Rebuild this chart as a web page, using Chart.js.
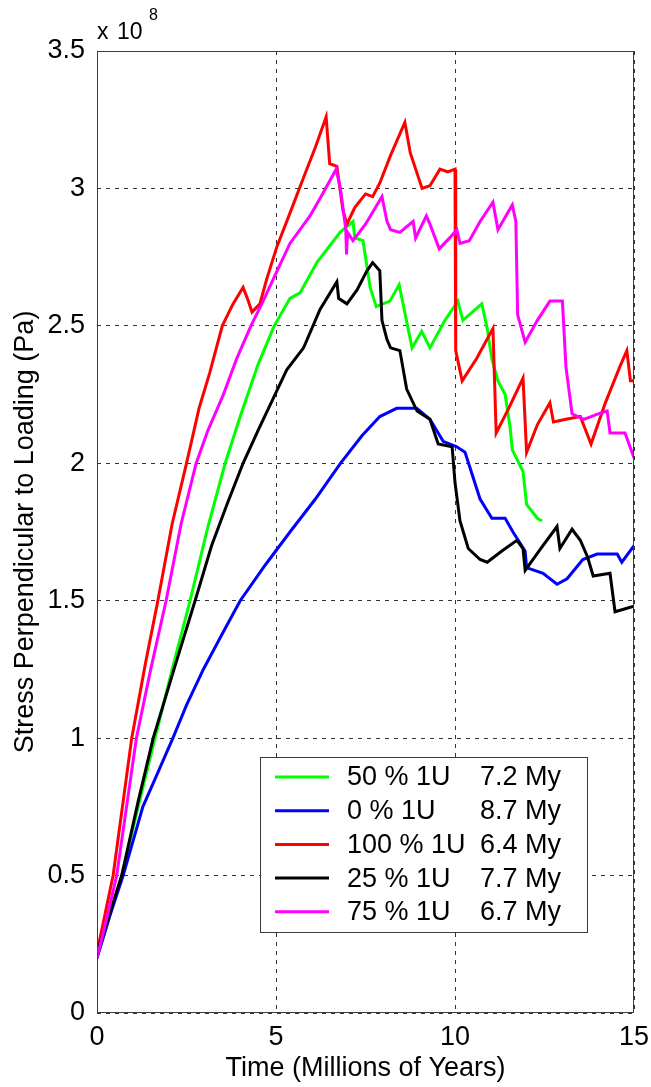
<!DOCTYPE html>
<html>
<head>
<meta charset="utf-8">
<title>Stress Perpendicular to Loading</title>
<script src="https://cdn.jsdelivr.net/npm/chart.js@4.4.1/dist/chart.umd.min.js"></script>
<style>
  html, body { margin: 0; padding: 0; background: #fff; }
  canvas { display: block; }
</style>
</head>
<body>
<canvas id="stressChart" width="651" height="1087"></canvas>
<script>
/* Stress perpendicular to loading vs time (values in units of 1e8 Pa) */

const xTickLabels = ['0', '5', '10', '15'];
const yTickLabels = ['0', '0.5', '1', '1.5', '2', '2.5', '3', '3.5'];

const seriesNames = ['50 % 1U', '0 % 1U', '100 % 1U', '25 % 1U', '75 % 1U'];
const seriesTimes = ['7.2 My', '8.7 My', '6.4 My', '7.7 My', '6.7 My'];
const seriesColors = ['#00ff00', '#0000ff', '#ff0000', '#000000', '#ff00ff'];

// 50 % 1U
const greenT = [0, 0.35, 0.69, 1.15, 1.62, 2.1, 2.6, 3.1, 3.58, 4.0, 4.5, 4.95, 5.39, 5.67, 6.14, 6.79, 7.15, 7.2, 7.43, 7.63, 7.8, 8.18, 8.44, 8.8, 9.07, 9.3, 9.72, 10.08, 10.22, 10.75, 10.9, 11.03, 11.2, 11.4, 11.54, 11.6, 11.9, 12.0, 12.3, 12.43];
const greenV = [0.2, 0.35, 0.5, 0.75, 1.0, 1.25, 1.5, 1.77, 2.0, 2.17, 2.36, 2.5, 2.6, 2.62, 2.73, 2.84, 2.88, 2.82, 2.81, 2.64, 2.57, 2.59, 2.65, 2.42, 2.48, 2.42, 2.52, 2.59, 2.52, 2.58, 2.49, 2.38, 2.3, 2.25, 2.13, 2.05, 1.97, 1.85, 1.8, 1.79];

// 0 % 1U
const blueT = [0, 0.35, 0.73, 1.28, 1.65, 2.12, 2.5, 2.97, 3.5, 4.0, 4.7, 5.39, 6.1, 6.8, 7.4, 7.9, 8.37, 8.93, 9.3, 9.67, 10.05, 10.28, 10.7, 11.03, 11.4, 11.62, 11.96, 12.0, 12.46, 12.85, 13.13, 13.57, 13.97, 14.53, 14.66, 15];
const blueV = [0.2, 0.35, 0.5, 0.75, 0.86, 1.0, 1.12, 1.25, 1.38, 1.5, 1.63, 1.75, 1.87, 2.0, 2.1, 2.17, 2.2, 2.2, 2.16, 2.08, 2.06, 2.04, 1.87, 1.8, 1.8, 1.75, 1.68, 1.62, 1.6, 1.56, 1.58, 1.65, 1.67, 1.67, 1.64, 1.7];

// 100 % 1U
const redT = [0, 0.45, 0.97, 1.35, 1.7, 2.1, 2.5, 2.85, 3.15, 3.5, 3.8, 4.08, 4.2, 4.33, 4.55, 4.74, 5.03, 5.39, 5.8, 6.1, 6.4, 6.5, 6.7, 6.87, 6.98, 7.2, 7.5, 7.7, 7.9, 8.2, 8.6, 8.75, 9.08, 9.3, 9.58, 9.8, 10.0, 10.02, 10.2, 10.6, 11.06, 11.15, 11.5, 11.9, 12.0, 12.3, 12.65, 12.75, 13.1, 13.5, 13.65, 13.8, 14.2, 14.6, 14.8, 14.9, 15];
const redV = [0.22, 0.5, 1.0, 1.27, 1.5, 1.78, 2.0, 2.2, 2.33, 2.5, 2.58, 2.64, 2.6, 2.55, 2.58, 2.67, 2.79, 2.91, 3.05, 3.15, 3.26, 3.09, 3.08, 2.92, 2.87, 2.93, 2.98, 2.97, 3.02, 3.12, 3.24, 3.13, 3.0, 3.01, 3.07, 3.06, 3.07, 2.41, 2.3, 2.38, 2.49, 2.11, 2.2, 2.31, 2.04, 2.14, 2.22, 2.15, 2.16, 2.17, 2.12, 2.07, 2.22, 2.35, 2.41, 2.3, 2.3];

// 25 % 1U
const blackT = [0, 0.35, 0.69, 1.15, 1.57, 2.15, 2.74, 3.2, 3.63, 4.08, 4.5, 4.9, 5.3, 5.77, 6.23, 6.7, 6.75, 6.98, 7.26, 7.54, 7.7, 7.9, 7.96, 8.1, 8.2, 8.46, 8.65, 8.94, 9.3, 9.53, 9.92, 10.0, 10.14, 10.37, 10.7, 10.9, 11.3, 11.73, 11.9, 11.96, 12.4, 12.85, 12.93, 13.27, 13.5, 13.7, 13.86, 14.33, 14.47, 15];
const blackV = [0.22, 0.36, 0.5, 0.77, 1.0, 1.25, 1.5, 1.7, 1.85, 2.0, 2.12, 2.23, 2.34, 2.42, 2.56, 2.66, 2.6, 2.58, 2.63, 2.7, 2.73, 2.7, 2.52, 2.45, 2.42, 2.41, 2.27, 2.19, 2.16, 2.07, 2.06, 1.93, 1.79, 1.69, 1.65, 1.64, 1.68, 1.72, 1.69, 1.61, 1.69, 1.77, 1.69, 1.76, 1.72, 1.66, 1.59, 1.6, 1.46, 1.48];

// 75 % 1U
const magentaT = [0, 0.3, 0.55, 1.1, 1.5, 1.93, 2.35, 2.77, 3.1, 3.53, 3.9, 4.3, 4.64, 5.03, 5.39, 5.95, 6.3, 6.68, 6.8, 6.95, 6.97, 7.0, 7.15, 7.5, 7.96, 8.1, 8.2, 8.46, 8.83, 8.9, 9.2, 9.3, 9.56, 9.85, 10.05, 10.14, 10.4, 10.7, 11.06, 11.2, 11.6, 11.7, 11.75, 11.96, 12.3, 12.65, 13.0, 13.1, 13.27, 13.6, 14.0, 14.25, 14.33, 14.75, 15];
const magentaV = [0.2, 0.36, 0.5, 1.0, 1.25, 1.5, 1.78, 2.0, 2.12, 2.25, 2.38, 2.5, 2.59, 2.7, 2.8, 2.9, 2.98, 3.07, 3.0, 2.85, 2.76, 2.84, 2.81, 2.87, 2.97, 2.88, 2.85, 2.84, 2.88, 2.82, 2.9, 2.87, 2.78, 2.82, 2.85, 2.8, 2.81, 2.88, 2.95, 2.85, 2.94, 2.88, 2.54, 2.44, 2.52, 2.59, 2.59, 2.35, 2.18, 2.16, 2.18, 2.19, 2.11, 2.11, 2.02];

const FONT = "'Liberation Sans', Arial, sans-serif";

function toPoints(ts, vs) {
  return ts.map((t, i) => ({ x: t, y: vs[i] }));
}

// box, exponent label and in-plot legend, the way Matlab draws them
const matlabDecor = {
  id: 'matlabDecor',
  afterDraw(chart) {
    const { ctx, chartArea: a } = chart;
    ctx.save();

    ctx.strokeStyle = '#3c3c3c';
    ctx.lineWidth = 1;
    ctx.setLineDash([]);
    ctx.strokeRect(a.left + 0.5, a.top + 0.5, a.right - a.left - 1, a.bottom - a.top - 1);

    // x 10^8
    ctx.fillStyle = '#000';
    ctx.textBaseline = 'alphabetic';
    ctx.textAlign = 'left';
    ctx.font = '23px ' + FONT;
    ctx.fillText('x', a.left, a.top - 12);
    ctx.fillText('10', a.left + 20, a.top - 12);
    ctx.font = '16px ' + FONT;
    ctx.fillText('8', a.left + 52, a.top - 31);

    // legend
    const lx = 260, ly = 757, lw = 328, lh = 176;
    ctx.fillStyle = '#fff';
    ctx.fillRect(lx, ly, lw, lh);
    ctx.strokeStyle = '#3c3c3c';
    ctx.strokeRect(lx + 0.5, ly + 0.5, lw - 1, lh - 1);

    ctx.font = '27px ' + FONT;
    ctx.textBaseline = 'middle';
    seriesNames.forEach((name, i) => {
      const y = ly + 20 + i * 33.7;
      ctx.strokeStyle = seriesColors[i];
      ctx.lineWidth = 3;
      ctx.beginPath();
      ctx.moveTo(lx + 15, y);
      ctx.lineTo(lx + 69, y);
      ctx.stroke();
      ctx.fillStyle = '#000';
      ctx.fillText(name, lx + 87, y + 1);
      ctx.fillText(seriesTimes[i], lx + 220, y + 1);
    });
    ctx.restore();
  }
};

function renderStressChart() {
  const ctx = document.getElementById('stressChart');
  const lines = [
    [greenT, greenV], [blueT, blueV], [redT, redV], [blackT, blackV], [magentaT, magentaV]
  ];

  new Chart(ctx, {
    type: 'line',
    data: {
      datasets: lines.map((s, i) => ({
        label: seriesNames[i] + ' ' + seriesTimes[i],
        data: toPoints(s[0], s[1]),
        borderColor: seriesColors[i],
        backgroundColor: seriesColors[i],
        borderWidth: 3,
        pointRadius: 0,
        tension: 0,
        fill: false,
        order: lines.length - i,
      }))
    },
    options: {
      responsive: false,
      animation: false,
      events: [],
      layout: { padding: { top: 51, right: 17, left: 0, bottom: 0 } },
      plugins: { legend: { display: false }, tooltip: { enabled: false } },
      scales: {
        x: {
          type: 'linear', min: 0, max: 15,
          afterFit: s => { s.height = 74; s.paddingLeft = 0; s.paddingRight = 0; },
          grid: { color: '#333', lineWidth: 1, drawTicks: false },
          border: { display: false, dash: [4, 5] },
          ticks: {
            stepSize: 5, maxRotation: 0, padding: 8, color: '#000',
            font: { family: FONT, size: 27 },
            callback: (v, i) => xTickLabels[i]
          },
          title: {
            display: true, text: 'Time (Millions of Years)', color: '#000',
            font: { family: FONT, size: 27 }, padding: { top: 0, bottom: 2 }
          }
        },
        y: {
          type: 'linear', min: 0, max: 3.5,
          afterFit: s => { s.width = 97; s.paddingTop = 0; s.paddingBottom = 0; },
          grid: { color: '#333', lineWidth: 1, drawTicks: false },
          border: { display: false, dash: [4, 5] },
          ticks: {
            stepSize: 0.5, padding: 12, color: '#000',
            font: { family: FONT, size: 27 },
            callback: (v, i) => yTickLabels[i]
          },
          title: {
            display: true, text: 'Stress Perpendicular to Loading (Pa)', color: '#000',
            font: { family: FONT, size: 27 }, padding: { top: 9, bottom: 0 }
          }
        }
      }
    },
    plugins: [matlabDecor]
  });
}

renderStressChart();
</script>
</body>
</html>
